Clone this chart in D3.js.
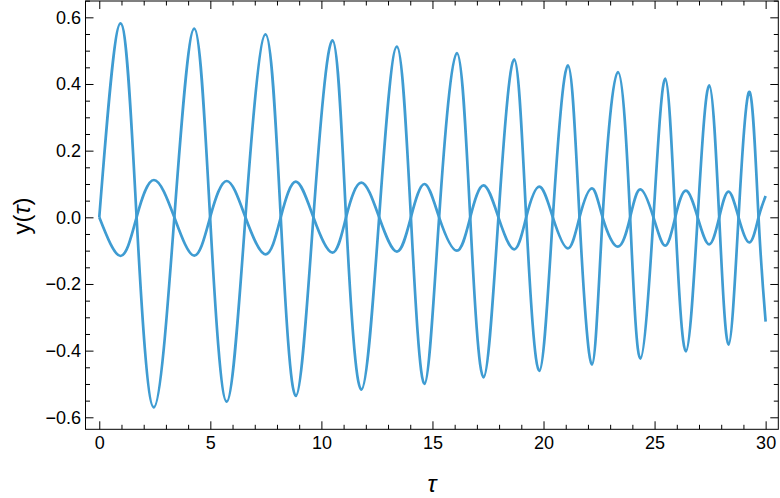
<!DOCTYPE html>
<html>
<head>
<meta charset="utf-8">
<script src="https://cdn.jsdelivr.net/npm/d3@7"></script>
<style>
  body { margin: 0; background: white; }
  .axis text { font-family: "Liberation Sans", Arial, sans-serif; font-size: 18px; fill: #000; }
  .axis line { stroke: #000; stroke-width: 1; }
</style>
</head>
<body>
<div id="plot"></div>
<script>
// nodes: start, extrema and zero crossings (shared by both curves)
var tauNodes = [0, 0.96, 1.68, 2.46, 3.38, 4.28, 4.99, 5.74, 6.58, 7.49, 8.17, 8.85, 9.64,
    10.50, 11.11, 11.80, 12.60, 13.40, 14.03, 14.64, 15.30, 16.10, 16.70, 17.30, 17.97,
    18.68, 19.22, 19.81, 20.42, 21.10, 21.62, 22.18, 22.66, 23.35, 23.90, 24.36, 24.95,
    25.48, 25.93, 26.41, 26.94, 27.46, 27.91, 28.33, 28.78, 29.28, 29.68, 30];

var bigValues = [0, 0.582, 0, -0.570, 0, 0.566, 0, -0.553, 0, 0.549, 0, -0.536, 0,
    0.531, 0, -0.517, 0, 0.512, 0, -0.500, 0, 0.493, 0, -0.480, 0,
    0.474, 0, -0.461, 0, 0.456, 0, -0.442, 0, 0.436, 0, -0.424, 0,
    0.416, 0, -0.402, 0, 0.396, 0, -0.382, 0, 0.376, 0, -0.313];

var smallValues = [0, -0.116, 0, 0.112, 0, -0.115, 0, 0.109, 0, -0.111, 0, 0.107, 0,
    -0.106, 0, 0.104, 0, -0.103, 0, 0.100, 0, -0.100, 0, 0.096, 0,
    -0.096, 0, 0.092, 0, -0.093, 0, 0.087, 0, -0.088, 0, 0.084, 0,
    -0.085, 0, 0.080, 0, -0.081, 0, 0.077, 0, -0.075, 0, 0.064];

var xMajor = [0, 5, 10, 15, 20, 25, 30];
var xMinor = d3.range(0, 31).filter(function(d){ return d % 5 != 0 });
var yMajor = [-0.6, -0.4, -0.2, 0, 0.2, 0.4, 0.6];
var yMinor = [-0.55, -0.5, -0.45, -0.35, -0.3, -0.25, -0.15, -0.1, -0.05,
    0.05, 0.1, 0.15, 0.25, 0.3, 0.35, 0.45, 0.5, 0.55, 0.65];

makePlot();

function makePlot(){
    var w = 780;
    var h = 498;
    var x0 = 85.5, x1 = 778.3, y0 = 1, y1 = 429.3;
    var lineColor = "#3f9cd2";

    var svg = d3.select("#plot")
        .append("svg")
        .attr("width", w)
        .attr("height", h)

    var x = d3.scaleLinear()
        .domain([-0.62, 30.57])
        .range([x0, x1])

    var y = d3.scaleLinear()
        .domain([-0.636, 0.649])
        .range([y1, y0])

    var fmt = d3.format(".1f");

    // curves
    var big = tauNodes.map(function(t, i){ return [t, bigValues[i]] });
    var small = tauNodes.map(function(t, i){ return [t, smallValues[i]] });

    var line = d3.line()
        .x(function(d){ return x(d[0]) })
        .y(function(d){ return y(d[1]) })
        .curve(d3.curveNatural)

    svg.append("defs").append("clipPath").attr("id", "clip")
        .append("rect")
        .attr("x", x0).attr("y", y0)
        .attr("width", x1 - x0).attr("height", y1 - y0)

    svg.selectAll("path.series")
        .data([big, small])
        .enter()
        .append("path")
        .attr("class", "series")
        .attr("clip-path", "url(#clip)")
        .attr("d", line)
        .style("fill", "none")
        .style("stroke", lineColor)
        .style("stroke-width", 2.7)
        .style("stroke-linejoin", "round")

    // frame ticks, all pointing inward
    function addAxis(axis, tx, ty){
        var g = svg.append("g")
            .attr("class", "axis")
            .attr("transform", "translate(" + tx + "," + ty + ")")
            .call(axis)
        g.select(".domain").remove()
        return g
    }

    addAxis(d3.axisBottom(x).tickValues(xMajor).tickSize(-8).tickSizeOuter(0).tickPadding(7).tickFormat(d3.format("d")), 0, y1)
    addAxis(d3.axisBottom(x).tickValues(xMinor).tickSize(-4.5).tickSizeOuter(0).tickFormat(""), 0, y1)
    addAxis(d3.axisTop(x).tickValues(xMajor).tickSize(-8).tickSizeOuter(0).tickFormat(""), 0, y0)
    addAxis(d3.axisTop(x).tickValues(xMinor).tickSize(-4.5).tickSizeOuter(0).tickFormat(""), 0, y0)

    addAxis(d3.axisLeft(y).tickValues(yMajor).tickSize(-8).tickSizeOuter(0).tickPadding(4.5).tickFormat(fmt), x0, 0)
    addAxis(d3.axisLeft(y).tickValues(yMinor).tickSize(-4.5).tickSizeOuter(0).tickFormat(""), x0, 0)
    addAxis(d3.axisRight(y).tickValues(yMajor).tickSize(-8).tickSizeOuter(0).tickFormat(""), x1, 0)
    addAxis(d3.axisRight(y).tickValues(yMinor).tickSize(-4.5).tickSizeOuter(0).tickFormat(""), x1, 0)

    svg.append("rect")
        .attr("x", x0)
        .attr("y", y0)
        .attr("width", x1 - x0)
        .attr("height", y1 - y0)
        .style("fill", "none")
        .style("stroke", "#000")
        .style("stroke-width", 1)

    // axis labels
    svg.append("text")
        .attr("x", (x0 + x1) / 2)
        .attr("y", 492)
        .attr("text-anchor", "middle")
        .style("font-family", "Liberation Sans, Arial, sans-serif")
        .style("font-size", "24px")
        .style("font-style", "italic")
        .text("τ")

    var yl = svg.append("text")
        .attr("transform", "translate(30,216) rotate(-90)")
        .attr("text-anchor", "middle")
        .style("font-family", "Liberation Sans, Arial, sans-serif")
        .style("font-size", "24px")
    yl.append("tspan").text("y(")
    yl.append("tspan").style("font-style", "italic").text("τ")
    yl.append("tspan").text(")")
}
</script>
</body>
</html>
